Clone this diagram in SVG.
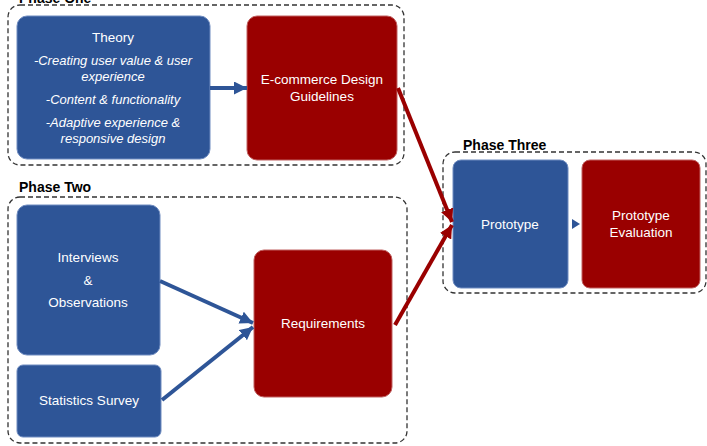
<svg xmlns="http://www.w3.org/2000/svg" width="707" height="446" viewBox="0 0 707 446">
<defs>
<style>
.phase{fill:none;stroke:#333;stroke-width:1.3;stroke-dasharray:5,3}
.plabel{font-family:"Liberation Sans",Arial,sans-serif;font-weight:bold;font-size:14px;fill:#000}
.blue{fill:#2E5597;stroke:#6F8CC0;stroke-width:1}
.red{fill:#9A0000;stroke:#C06060;stroke-width:1}
.t{font-family:"Liberation Sans",Arial,sans-serif;font-size:13.5px;fill:#fff;text-anchor:middle}
.i{font-style:italic;font-size:13px}
.ab{stroke:#2E5597;stroke-width:4;fill:none}
.ar{stroke:#9A0000;stroke-width:4;fill:none}
</style>
<marker id="mb" markerUnits="userSpaceOnUse" viewBox="0 0 12 12" refX="12" refY="6" markerWidth="13" markerHeight="13" orient="auto"><path d="M0,0 L12,6 L0,12 z" fill="#2E5597"/></marker>
<marker id="mr" markerUnits="userSpaceOnUse" viewBox="0 0 12 12" refX="12" refY="6" markerWidth="13" markerHeight="13" orient="auto"><path d="M0,0 L12,6 L0,12 z" fill="#9A0000"/></marker>
</defs>
<rect width="707" height="446" fill="#fff"/>
<g id="phase-one">
<rect class="phase" x="8" y="5" width="396" height="160" rx="12"/>
<text class="plabel" x="19" y="3">Phase One</text>
</g>
<g id="phase-two">
<rect class="phase" x="8" y="197" width="399" height="246" rx="12"/>
<text class="plabel" x="19" y="192">Phase Two</text>
</g>
<g id="phase-three">
<rect class="phase" x="443" y="152" width="263" height="141" rx="12"/>
<text class="plabel" x="463" y="150">Phase Three</text>
</g>
<g id="theory">
<rect class="blue" x="17" y="16" width="193" height="143" rx="10"/>
<text class="t" x="113" y="42">Theory</text>
<text class="t i" x="113" y="65">-Creating user value &amp; user</text>
<text class="t i" x="113" y="81">experience</text>
<text class="t i" x="113" y="104">-Content &amp; functionality</text>
<text class="t i" x="113" y="127">-Adaptive experience &amp;</text>
<text class="t i" x="113" y="143">responsive design</text>
</g>
<g id="guidelines">
<rect class="red" x="247" y="16" width="150" height="144" rx="10"/>
<text class="t" x="322" y="84">E-commerce Design</text>
<text class="t" x="322" y="101">Guidelines</text>
</g>
<g id="interviews">
<rect class="blue" x="17" y="205" width="143" height="150" rx="10"/>
<text class="t" x="88" y="262">Interviews</text>
<text class="t" x="88" y="285">&amp;</text>
<text class="t" x="88" y="307">Observations</text>
</g>
<g id="survey">
<rect class="blue" x="17" y="365" width="144" height="72" rx="6"/>
<text class="t" x="89" y="405">Statistics Survey</text>
</g>
<g id="requirements">
<rect class="red" x="254" y="250" width="138" height="147" rx="10"/>
<text class="t" x="323" y="328">Requirements</text>
</g>
<g id="prototype">
<rect class="blue" x="453" y="160" width="115" height="128" rx="8"/>
<text class="t" x="510" y="229">Prototype</text>
</g>
<g id="evaluation">
<rect class="red" x="582" y="160" width="118" height="128" rx="8"/>
<text class="t" x="641" y="220">Prototype</text>
<text class="t" x="641" y="237">Evaluation</text>
</g>
<g id="connectors">
<line class="ab" x1="210" y1="88" x2="247" y2="88" marker-end="url(#mb)"/>
<line class="ab" x1="160" y1="281" x2="253" y2="323" marker-end="url(#mb)"/>
<line class="ab" x1="162" y1="400" x2="253" y2="327" marker-end="url(#mb)"/>
<line class="ar" x1="398" y1="88" x2="452" y2="222" marker-end="url(#mr)"/>
<line class="ar" x1="395" y1="325" x2="452" y2="225" marker-end="url(#mr)"/>
<path d="M572,219 L580,224 L572,229 z" fill="#2E5597"/>
</g>
</svg>
